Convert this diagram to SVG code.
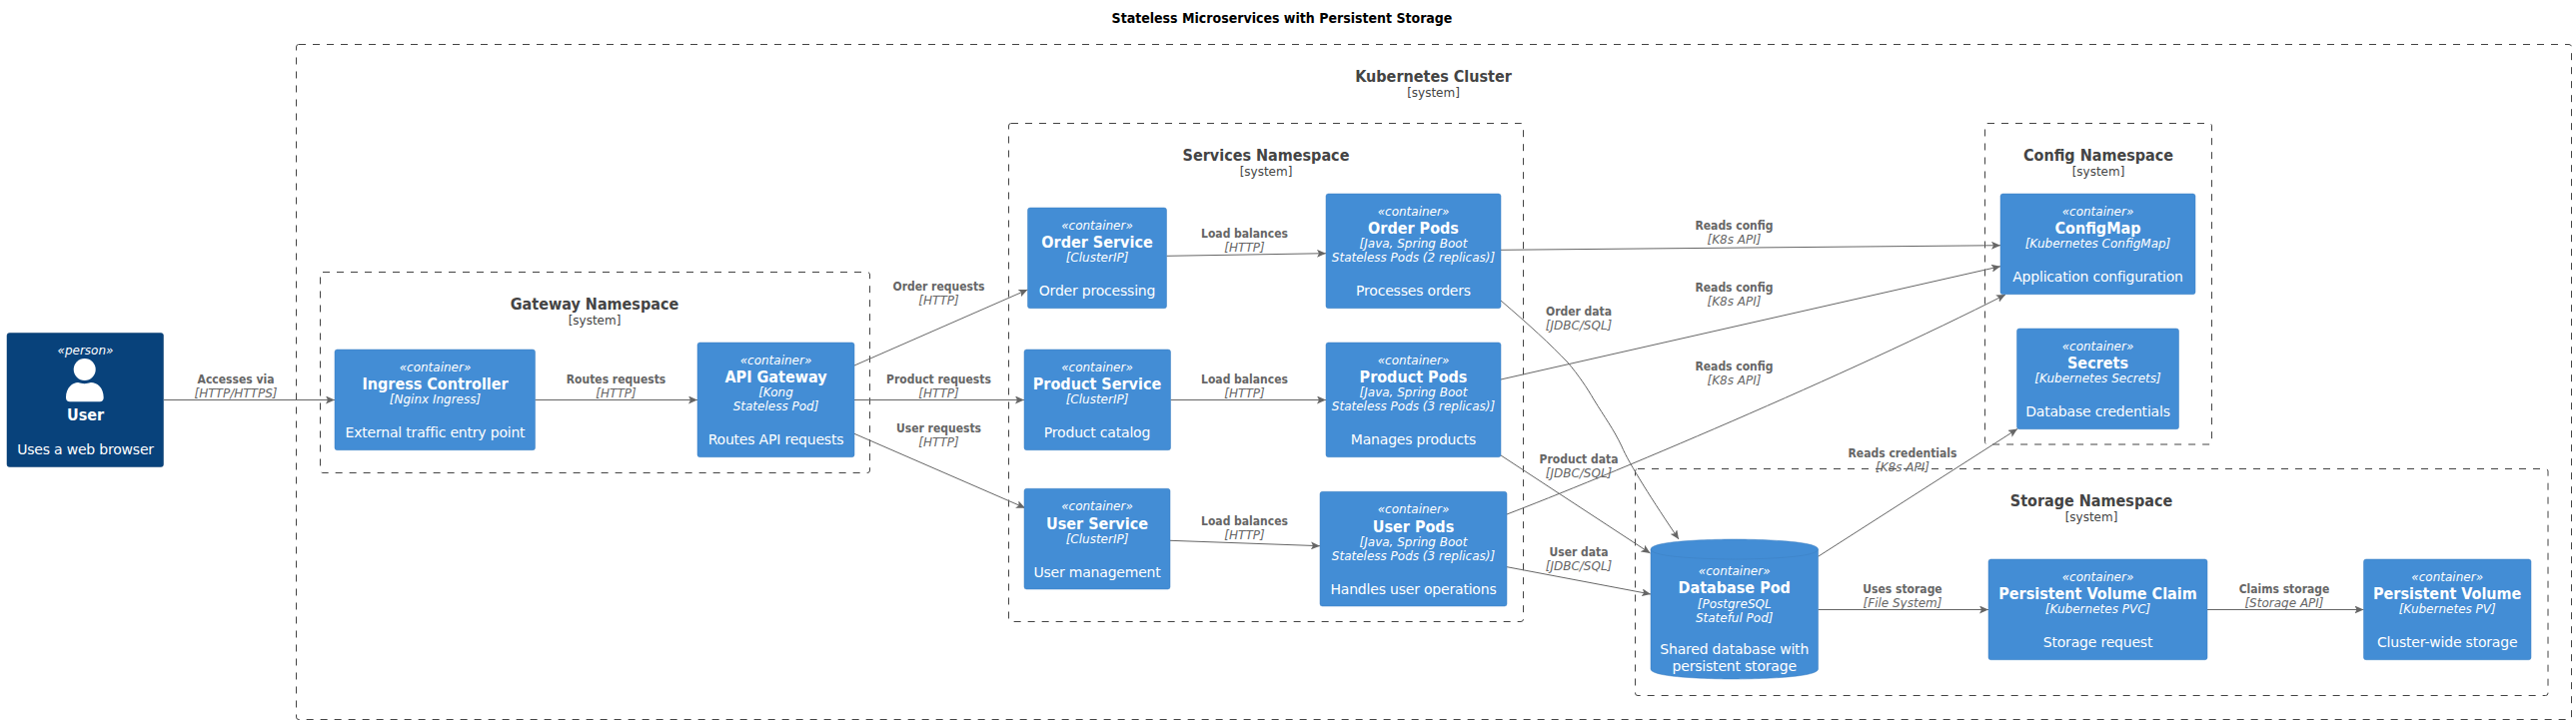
<svg xmlns="http://www.w3.org/2000/svg" width="2578" height="725" viewBox="0 0 2578 725">
<style>
text{font-family:"DejaVu Sans","Liberation Sans",sans-serif;text-anchor:middle}
.title,.bn,.nm,.l{font-family:"DejaVu Sans Condensed","DejaVu Sans",sans-serif;font-stretch:condensed;font-weight:700}
.title{font-size:14px;fill:#000}
.bn{font-size:16px;fill:#444}
.bs{font-size:12px;fill:#444}
.bd{fill:none;stroke:#444;stroke-width:1;stroke-dasharray:7 7}
.box{fill:#438DD5;stroke:#3C7FC0;stroke-width:.5}
.per{fill:#08427B;stroke:#073B6F;stroke-width:.5}
.st{font-size:12px;font-style:italic;fill:#fff}
.nm{font-size:16px;fill:#fff}
.te{font-size:12px;font-style:italic;fill:#fff}
.de{font-size:14px;fill:#fff;letter-spacing:-.2px}
.e{fill:none;stroke:#666;stroke-width:1}
.l{font-size:12px;fill:#666}
.t{font-size:12px;font-style:italic;fill:#666}
</style>
<defs>
<marker id="a" viewBox="0 0 9 8" refX="9" refY="4" markerWidth="9" markerHeight="8" markerUnits="userSpaceOnUse" orient="auto">
<path d="M9,4 L0,0 L2,4 L0,8 Z" fill="#666"/>
</marker>
</defs>
<text class="title" x="1283" y="23">Stateless Microservices with Persistent Storage</text>
<g id="boundaries">
<g id="cluster"><rect class="bd" x="296.5" y="44.5" width="2277" height="676" rx="2.5"/><text class="bn" x="1434.5" y="82">Kubernetes Cluster</text><text class="bs" x="1434.5" y="97">[system]</text></g>
<g id="gateway-ns"><rect class="bd" x="320.5" y="272.5" width="550" height="201" rx="2.5"/><text class="bn" x="595" y="309.5">Gateway Namespace</text><text class="bs" x="595" y="324.5">[system]</text></g>
<g id="services-ns"><rect class="bd" x="1009.5" y="123.5" width="515" height="499" rx="2.5"/><text class="bn" x="1267" y="161">Services Namespace</text><text class="bs" x="1267" y="176">[system]</text></g>
<g id="config-ns"><rect class="bd" x="1986.5" y="123.5" width="227" height="321.5" rx="2.5"/><text class="bn" x="2100" y="161">Config Namespace</text><text class="bs" x="2100" y="176">[system]</text></g>
<g id="storage-ns"><rect class="bd" x="1636.5" y="469.5" width="913.500" height="227" rx="2.5"/><text class="bn" x="2093" y="507">Storage Namespace</text><text class="bs" x="2093" y="522">[system]</text></g>
</g>
<g id="connectors">
<path class="e" marker-end="url(#a)" d="M164,400.500 L335,400.500"/>
<path class="e" marker-end="url(#a)" d="M535.500,400.500 L698,400.500"/>
<path class="e" marker-end="url(#a)" d="M855,366 L1028.500,290"/>
<path class="e" marker-end="url(#a)" d="M855,400.500 L1025,400.500"/>
<path class="e" marker-end="url(#a)" d="M855,434.300 L1026,508.700"/>
<path class="e" marker-end="url(#a)" d="M1167.500,256.300 L1327,253.700"/>
<path class="e" marker-end="url(#a)" d="M1171.500,400.500 L1327,400.500"/>
<path class="e" marker-end="url(#a)" d="M1171,541.300 L1321,546.700"/>
<path class="e" marker-end="url(#a)" d="M1502,250.300 L2002,245.700"/>
<path class="e" marker-end="url(#a)" d="M1502,380 L2002,266.700"/>
<path class="e" marker-end="url(#a)" d="M1508,515 C1600,480 1850,375 2007,295"/>
<path class="e" marker-end="url(#a)" d="M1502,301 C1530,325 1552,345 1569,363 C1580,376 1588,388 1595,400 C1606,418 1615,430 1623,447 C1630,464 1655,503 1680,540"/>
<path class="e" marker-end="url(#a)" d="M1502,456 L1651.500,554"/>
<path class="e" marker-end="url(#a)" d="M1508,567.700 L1652,595"/>
<path class="e" marker-end="url(#a)" d="M1819.500,557.300 L2019,429.500"/>
<path class="e" marker-end="url(#a)" d="M1819.500,610.500 L1990,610.500"/>
<path class="e" marker-end="url(#a)" d="M2209,610.500 L2365.500,610.500"/>
</g>
<g id="edge-labels">
<text class="l" x="236" y="383.5">Accesses via</text><text class="t" x="236" y="397.5">[HTTP/HTTPS]</text>
<text class="l" x="616.5" y="383.5">Routes requests</text><text class="t" x="616.5" y="397.5">[HTTP]</text>
<text class="l" x="939.5" y="291">Order requests</text><text class="t" x="939.5" y="305">[HTTP]</text>
<text class="l" x="939.5" y="383.5">Product requests</text><text class="t" x="939.5" y="397.5">[HTTP]</text>
<text class="l" x="939.5" y="432.5">User requests</text><text class="t" x="939.5" y="446.5">[HTTP]</text>
<text class="l" x="1245.5" y="237.5">Load balances</text><text class="t" x="1245.5" y="251.5">[HTTP]</text>
<text class="l" x="1245.5" y="383.5">Load balances</text><text class="t" x="1245.5" y="397.5">[HTTP]</text>
<text class="l" x="1245.5" y="526">Load balances</text><text class="t" x="1245.5" y="540">[HTTP]</text>
<text class="l" x="1735.5" y="230">Reads config</text><text class="t" x="1735.5" y="244">[K8s API]</text>
<text class="l" x="1735.5" y="292">Reads config</text><text class="t" x="1735.5" y="306">[K8s API]</text>
<text class="l" x="1735.5" y="371">Reads config</text><text class="t" x="1735.5" y="385">[K8s API]</text>
<text class="l" x="1580" y="316">Order data</text><text class="t" x="1580" y="330">[JDBC/SQL]</text>
<text class="l" x="1580" y="464">Product data</text><text class="t" x="1580" y="478">[JDBC/SQL]</text>
<text class="l" x="1580" y="556.5">User data</text><text class="t" x="1580" y="570.5">[JDBC/SQL]</text>
<text class="l" x="1904" y="457.5">Reads credentials</text><text class="t" x="1904" y="471.5">[K8s API]</text>
<text class="l" x="1904" y="593.5">Uses storage</text><text class="t" x="1904" y="607.5">[File System]</text>
<text class="l" x="2286" y="593.5">Claims storage</text><text class="t" x="2286" y="607.5">[Storage API]</text>
</g>
<g id="user"><rect class="per" x="7" y="333.5" width="156.5" height="134" rx="2.5"/>
<text class="st" x="85.5" y="355">«person»</text>
<circle cx="84.700" cy="370" r="11" fill="#fff"/>
<path d="M66,398 C66,388 73,383 78,383 C82,384.5 87,384.5 91,383 C97,383 103.700,388 103.700,398 C103.700,401 102,402.300 100,402.300 L70,402.300 C67.5,402.300 66,401 66,398 Z" fill="#fff"/>
<text class="nm" x="85.5" y="421">User</text><text class="de" x="85.5" y="455">Uses a web browser</text></g>
<g id="ingress"><rect class="box" x="335" y="350" width="200.5" height="100.700" rx="2.5"/><text class="st" x="435.5" y="371.5">«container»</text><text class="nm" x="435.5" y="390">Ingress Controller</text><text class="te" x="435.5" y="404">[Nginx Ingress]</text><text class="de" x="435.5" y="438">External traffic entry point</text></g>
<g id="api-gateway"><rect class="box" x="698" y="343" width="157" height="114.700" rx="2.5"/><text class="st" x="776.5" y="364.5">«container»</text><text class="nm" x="776.5" y="383">API Gateway</text><text class="te" x="776.5" y="397">[Kong</text><text class="te" x="776.5" y="411">Stateless Pod]</text><text class="de" x="776.5" y="445">Routes API requests</text></g>
<g id="order-service"><rect class="box" x="1028.5" y="208" width="139" height="100.700" rx="2.5"/><text class="st" x="1098" y="229.5">«container»</text><text class="nm" x="1098" y="248">Order Service</text><text class="te" x="1098" y="262">[ClusterIP]</text><text class="de" x="1098" y="296">Order processing</text></g>
<g id="product-service"><rect class="box" x="1025" y="350" width="146.5" height="100.700" rx="2.5"/><text class="st" x="1098" y="371.5">«container»</text><text class="nm" x="1098" y="390">Product Service</text><text class="te" x="1098" y="404">[ClusterIP]</text><text class="de" x="1098" y="438">Product catalog</text></g>
<g id="user-service"><rect class="box" x="1025" y="489.300" width="146" height="100.700" rx="2.5"/><text class="st" x="1098" y="511">«container»</text><text class="nm" x="1098" y="529.5">User Service</text><text class="te" x="1098" y="543.5">[ClusterIP]</text><text class="de" x="1098" y="577.5">User management</text></g>
<g id="order-pods"><rect class="box" x="1327" y="194" width="175" height="114.700" rx="2.5"/><text class="st" x="1414.5" y="215.5">«container»</text><text class="nm" x="1414.5" y="234">Order Pods</text><text class="te" x="1414.5" y="248">[Java, Spring Boot</text><text class="te" x="1414.5" y="262">Stateless Pods (2 replicas)]</text><text class="de" x="1414.5" y="296">Processes orders</text></g>
<g id="product-pods"><rect class="box" x="1327" y="343" width="175" height="114.700" rx="2.5"/><text class="st" x="1414.5" y="364.5">«container»</text><text class="nm" x="1414.5" y="383">Product Pods</text><text class="te" x="1414.5" y="397">[Java, Spring Boot</text><text class="te" x="1414.5" y="411">Stateless Pods (3 replicas)]</text><text class="de" x="1414.5" y="445">Manages products</text></g>
<g id="user-pods"><rect class="box" x="1321" y="492.300" width="187" height="114.700" rx="2.5"/><text class="st" x="1414.5" y="514">«container»</text><text class="nm" x="1414.5" y="532.5">User Pods</text><text class="te" x="1414.5" y="546.5">[Java, Spring Boot</text><text class="te" x="1414.5" y="560.5">Stateless Pods (3 replicas)]</text><text class="de" x="1414.5" y="594.5">Handles user operations</text></g>
<g id="configmap"><rect class="box" x="2002" y="194" width="195" height="100.700" rx="2.5"/><text class="st" x="2099.5" y="215.5">«container»</text><text class="nm" x="2099.5" y="234">ConfigMap</text><text class="te" x="2099.5" y="248">[Kubernetes ConfigMap]</text><text class="de" x="2099.5" y="282">Application configuration</text></g>
<g id="secrets"><rect class="box" x="2018.5" y="329" width="162" height="100.700" rx="2.5"/><text class="st" x="2099.5" y="350.5">«container»</text><text class="nm" x="2099.5" y="369">Secrets</text><text class="te" x="2099.5" y="383">[Kubernetes Secrets]</text><text class="de" x="2099.5" y="417">Database credentials</text></g>
<g id="database"><path class="box" d="M1652,550 C1652,540 1735.700,540 1735.700,540 C1735.700,540 1819.500,540 1819.500,550 L1819.500,670 C1819.500,680 1735.700,680 1735.700,680 C1735.700,680 1652,680 1652,670 Z"/><path d="M1652,550 C1652,560 1735.700,560 1735.700,560 C1735.700,560 1819.500,560 1819.500,550" fill="none" stroke="#3C7FC0" stroke-width=".5"/><text class="st" x="1735.700" y="575.5">«container»</text><text class="nm" x="1735.700" y="593.5">Database Pod</text><text class="te" x="1735.700" y="609">[PostgreSQL</text><text class="te" x="1735.700" y="622.5">Stateful Pod]</text><text class="de" x="1735.700" y="655">Shared database with</text><text class="de" x="1735.700" y="671.5">persistent storage</text></g>
<g id="pvc"><rect class="box" x="1990" y="560" width="219" height="100.700" rx="2.5"/><text class="st" x="2099.5" y="581.5">«container»</text><text class="nm" x="2099.5" y="600">Persistent Volume Claim</text><text class="te" x="2099.5" y="614">[Kubernetes PVC]</text><text class="de" x="2099.5" y="648">Storage request</text></g>
<g id="pv"><rect class="box" x="2365.5" y="560" width="167.5" height="100.700" rx="2.5"/><text class="st" x="2449.200" y="581.5">«container»</text><text class="nm" x="2449.200" y="600">Persistent Volume</text><text class="te" x="2449.200" y="614">[Kubernetes PV]</text><text class="de" x="2449.200" y="648">Cluster-wide storage</text></g>
</svg>
